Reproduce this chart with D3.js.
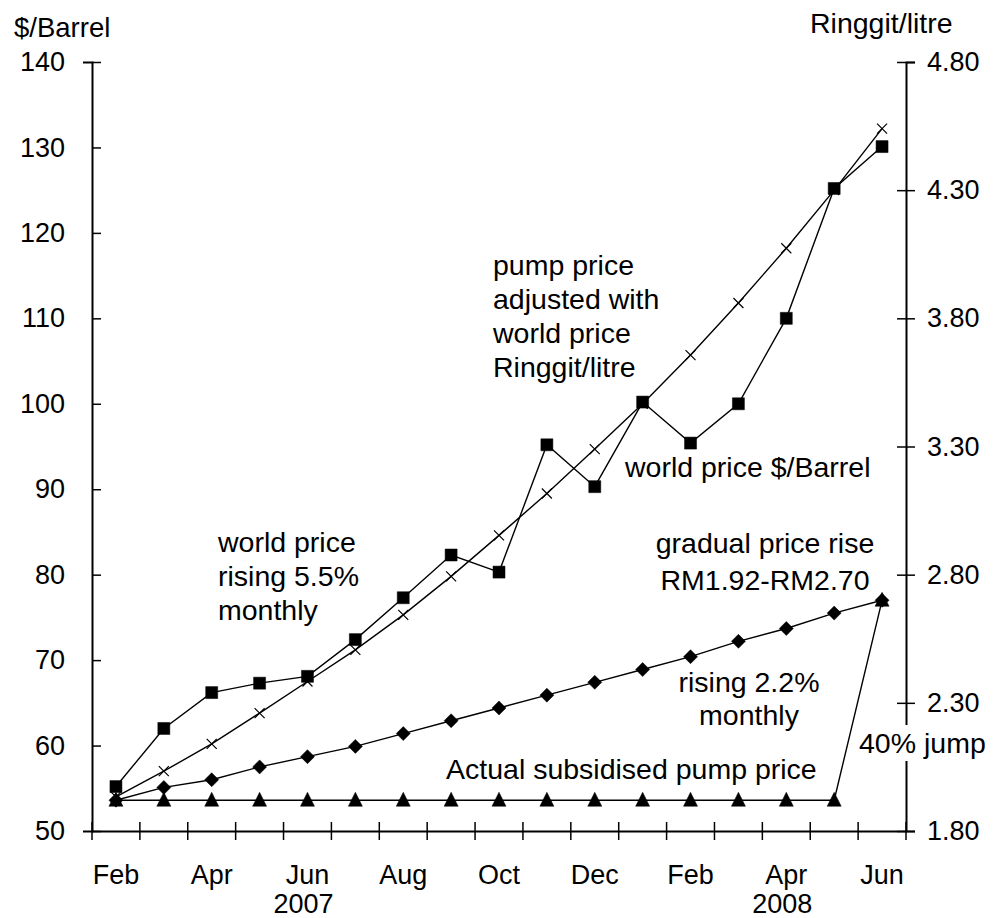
<!DOCTYPE html>
<html>
<head>
<meta charset="utf-8">
<script src="https://cdn.jsdelivr.net/npm/d3@7"></script>
<style>
    body { margin: 0; background: #ffffff; }
    svg text { font-family: "Liberation Sans", Arial, sans-serif; font-size: 28.5px; fill: #000000; }
</style>
</head>
<body>
<script>
// 月份（2007 年 2 月 到 2008 年 6 月）
const months = ['Feb 2007', 'Mar 2007', 'Apr 2007', 'May 2007', 'Jun 2007', 'Jul 2007', 'Aug 2007',
    'Sep 2007', 'Oct 2007', 'Nov 2007', 'Dec 2007', 'Jan 2008', 'Feb 2008', 'Mar 2008', 'Apr 2008',
    'May 2008', 'Jun 2008'];
const tickLabels = ['Feb', '', 'Apr', '', 'Jun', '', 'Aug', '', 'Oct', '', 'Dec', '', 'Feb', '', 'Apr', '', 'Jun'];
const yearMonths = ['Jun 2007', 'Apr 2008'];
const yearLabels = ['2007', '2008'];

// 左轴 $/Barrel
const leftTicks = [50, 60, 70, 80, 90, 100, 110, 120, 130, 140];
// 右轴 Ringgit/litre
const rightTicks = [1.80, 2.30, 2.80, 3.30, 3.80, 4.30, 4.80];

// 世界油价 $/Barrel（方块）
const worldPrice = [55.2, 62, 66.2, 67.3, 68.1, 72.4, 77.3, 82.3, 80.3, 95.2, 90.3, 100.2, 95.4, 100, 110, 125.2, 130.1];
// 每月上涨 5.5% 的世界油价（叉）
const worldTrend = [54, 57, 60.2, 63.8, 67.5, 71.2, 75.3, 79.8, 84.6, 89.5, 94.7, 100, 105.7, 111.8, 118.2, 125, 132.2];
// 逐步上涨 RM1.92-RM2.70（菱形）Ringgit/litre
const gradualRise = [1.92, 1.97, 2.00, 2.05, 2.09, 2.13, 2.18, 2.23, 2.28, 2.33, 2.38, 2.43, 2.48, 2.54, 2.59, 2.65, 2.70];
// 实际补贴后油价（三角）Ringgit/litre
const actualPump = [1.92, 1.92, 1.92, 1.92, 1.92, 1.92, 1.92, 1.92, 1.92, 1.92, 1.92, 1.92, 1.92, 1.92, 1.92, 1.92, 2.70];

const renderParams = {
    svgWidth: 1000,
    svgHeight: 918,
    left: 92,
    right: 906,
    top: 62,
    bottom: 831
};

const renderChart = (params) => {
    let {svgWidth, svgHeight, left, right, top, bottom} = params;

    let svg = d3.select('body')
        .append('svg')
        .attr('width', svgWidth)
        .attr('height', svgHeight);

    // 比例尺
    const x = d3.scaleBand(months, [left, right]);
    const yL = d3.scaleLinear([50, 140], [bottom, top]);
    const yR = d3.scaleLinear([1.8, 4.8], [bottom, top]);
    const cx = m => x(m) + x.bandwidth() / 2;

    // 左轴
    const gL = svg.append('g')
        .attr('transform', `translate(${left},0)`)
        .call(d3.axisLeft(yL).tickValues(leftTicks).tickSize(9).tickPadding(18).tickFormat(d3.format('d')));
    gL.selectAll('.tick line').attr('x2', 9);

    // 右轴
    const gR = svg.append('g')
        .attr('transform', `translate(${right},0)`)
        .call(d3.axisRight(yR).tickValues(rightTicks).tickSize(9).tickPadding(12).tickFormat(d3.format('.2f')));
    gR.selectAll('.tick line').attr('x2', 9).attr('x1', -9);

    // 下轴（刻度在月份之间）
    const gB = svg.append('g')
        .attr('transform', `translate(0,${bottom})`)
        .call(d3.axisBottom(x).tickSize(0).tickPadding(34).tickFormat((d, i) => tickLabels[i]));
    gB.selectAll('.tick text').attr('dy', '0.71em');
    const bounds = d3.range(months.length + 1).map(i => left + x.step() * i);
    gB.selectAll('line.bound')
        .data(bounds)
        .enter()
        .append('line')
        .attr('class', 'bound')
        .attr('x1', d => d).attr('x2', d => d)
        .attr('y1', -9).attr('y2', 9)
        .attr('stroke', '#000000');

    svg.selectAll('.domain').attr('stroke', '#000000').attr('stroke-width', 2);
    svg.selectAll('.tick line, line.bound').attr('stroke', '#000000').attr('stroke-width', 1.5);
    svg.selectAll('.tick text').style('font-size', '27px').style('font-family', '"Liberation Sans", Arial, sans-serif');

    // 年份
    svg.selectAll('text.year')
        .data(yearMonths)
        .enter()
        .append('text')
        .attr('class', 'year')
        .attr('x', d => cx(d) - 4)
        .attr('y', 913)
        .attr('text-anchor', 'middle')
        .style('font-size', '27px')
        .text((d, i) => yearLabels[i]);

    // 轴标题
    svg.append('text').attr('x', 14).attr('y', 37).style('font-size', '27.5px').text('$/Barrel');
    svg.append('text').attr('x', 810).attr('y', 33).text('Ringgit/litre');

    // 系列
    const series = [
        {values: worldPrice, y: yL, marker: 'square'},
        {values: worldTrend, y: yL, marker: 'cross'},
        {values: gradualRise, y: yR, marker: 'diamond'},
        {values: actualPump, y: yR, marker: 'triangle'}
    ];

    const markerPath = {
        square: 'M-6,-6H6V6H-6Z',
        cross: 'M-5,-5L5,5M-5,5L5,-5',
        diamond: 'M0,-7L7,0L0,7L-7,0Z',
        triangle: 'M0,-8L7,6H-7Z'
    };

    series.forEach(s => {
        const line = d3.line()
            .x((d, i) => cx(months[i]))
            .y(d => s.y(d));
        svg.append('path')
            .datum(s.values)
            .attr('d', line)
            .attr('fill', 'none')
            .attr('stroke', '#000000')
            .attr('stroke-width', 1.4);
    });

    series.forEach(s => {
        svg.append('g')
            .selectAll('path')
            .data(s.values)
            .enter()
            .append('path')
            .attr('transform', (d, i) => `translate(${cx(months[i])},${s.y(d)})`)
            .attr('d', markerPath[s.marker])
            .attr('fill', s.marker === 'cross' ? 'none' : '#000000')
            .attr('stroke', '#000000')
            .attr('stroke-width', s.marker === 'cross' ? 1.2 : 0.5);
    });

    // 注释文字
    const addLines = (lines, xPos, y0, dy, anchor) => {
        lines.forEach((t, i) => {
            svg.append('text')
                .attr('x', xPos)
                .attr('y', y0 + i * dy)
                .attr('text-anchor', anchor)
                .text(t);
        });
    };
    addLines(['pump price', 'adjusted with', 'world price', 'Ringgit/litre'], 493, 275, 34, 'start');
    addLines(['world price $/Barrel'], 625, 477, 0, 'start');
    addLines(['world price', 'rising 5.5%', 'monthly'], 218, 552, 34, 'start');
    addLines(['gradual price rise', 'RM1.92-RM2.70'], 765, 553, 37, 'middle');
    addLines(['rising 2.2%', 'monthly'], 749, 692, 33, 'middle');
    addLines(['Actual subsidised pump price'], 446, 779, 0, 'start');

    // "40% jump" 盖住右轴
    const jump = svg.append('text')
        .attr('x', 859)
        .attr('y', 753)
        .text('40% jump');
    const bb = jump.node().getBBox();
    svg.insert('rect', () => jump.node())
        .attr('x', bb.x - 2)
        .attr('y', bb.y - 2)
        .attr('width', bb.width + 4)
        .attr('height', bb.height + 4)
        .attr('fill', '#ffffff');
};

renderChart(renderParams);
</script>
</body>
</html>
